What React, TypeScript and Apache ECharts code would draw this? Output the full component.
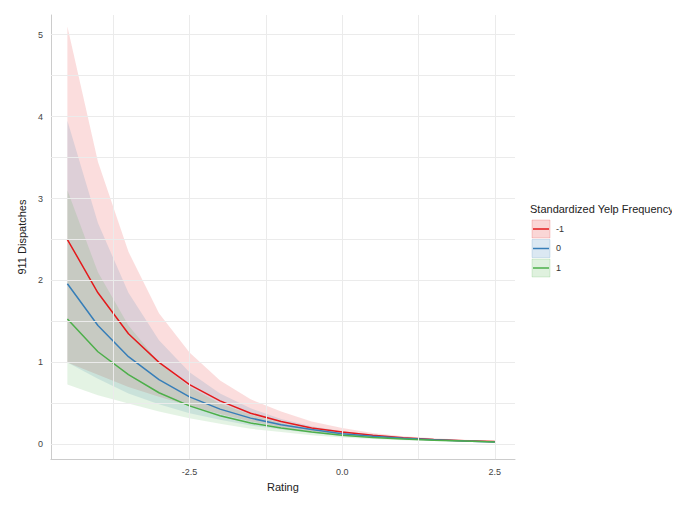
import React, { useEffect, useRef } from "react";
import * as echarts from "echarts";

const xs = [-4.5, -4, -3.5, -3, -2.5, -2, -1.5, -1, -0.5, 0, 0.5, 1, 1.5, 2, 2.5];
const groups = ["-1", "0", "1"];
const colors = ["#E41A1C", "#377EB8", "#4DAF4A"];
const fitRed = [2.5, 1.85, 1.35, 1.0, 0.73, 0.53, 0.38, 0.28, 0.2, 0.15, 0.11, 0.08, 0.06, 0.045, 0.035];
const fitBlue = [1.96, 1.45, 1.07, 0.79, 0.58, 0.43, 0.32, 0.24, 0.18, 0.13, 0.1, 0.075, 0.055, 0.04, 0.03];
const fitGreen = [1.53, 1.13, 0.85, 0.63, 0.47, 0.35, 0.26, 0.2, 0.15, 0.11, 0.085, 0.065, 0.05, 0.04, 0.03];
const upRed = [5.1, 3.45, 2.35, 1.6, 1.12, 0.78, 0.55, 0.4, 0.28, 0.2, 0.14, 0.1, 0.075, 0.055, 0.04];
const loRed = [1.0, 0.85, 0.7, 0.58, 0.47, 0.37, 0.28, 0.21, 0.16, 0.12, 0.09, 0.065, 0.05, 0.035, 0.03];
const upBlue = [3.95, 2.7, 1.85, 1.27, 0.88, 0.62, 0.44, 0.31, 0.22, 0.16, 0.12, 0.085, 0.063, 0.047, 0.035];
const loBlue = [1.0, 0.8, 0.62, 0.49, 0.38, 0.3, 0.23, 0.18, 0.14, 0.1, 0.08, 0.06, 0.045, 0.035, 0.025];
const upGreen = [3.1, 2.1, 1.45, 1.0, 0.7, 0.5, 0.36, 0.26, 0.19, 0.14, 0.1, 0.075, 0.056, 0.042, 0.032];
const loGreen = [0.73, 0.6, 0.5, 0.4, 0.32, 0.25, 0.19, 0.15, 0.11, 0.085, 0.065, 0.05, 0.04, 0.03, 0.025];

const fits = [fitRed, fitBlue, fitGreen];
const ups = [upRed, upBlue, upGreen];
const los = [loRed, loBlue, loGreen];

export default function App() {
  const ref = useRef<HTMLDivElement>(null);
  useEffect(() => {
    const chart = echarts.init(ref.current!, null, { renderer: "svg" });
    const bands = groups.map((g, gi) => ({
      type: "custom",
      silent: true,
      data: xs.map((x, i) => [x, ups[gi][i]]),
      renderItem: (params: any, api: any) => {
        if (params.dataIndex !== 0) return null;
        const pts: number[][] = [];
        xs.forEach((x, i) => pts.push(api.coord([x, ups[gi][i]])));
        for (let i = xs.length - 1; i >= 0; i--) pts.push(api.coord([xs[i], los[gi][i]]));
        return { type: "polygon", shape: { points: pts }, style: { fill: colors[gi], opacity: 0.15 } };
      },
      z: 1,
    }));
    const lines = groups.map((g, gi) => ({
      type: "line",
      name: g,
      data: xs.map((x, i) => [x, fits[gi][i]]),
      showSymbol: false,
      lineStyle: { color: colors[gi], width: 1.5 },
      itemStyle: { color: colors[gi] },
      z: 3,
    }));
    const legendItems: any[] = [
      { type: "text", left: 522, top: 195, style: { text: "Standardized Yelp Frequency", fontSize: 11, fill: "#222", fontFamily: "Liberation Sans" } },
    ];
    groups.forEach((g, gi) => {
      const y = 212 + gi * 19.5;
      legendItems.push({ type: "rect", shape: { x: 524, y, width: 18, height: 18 }, style: { fill: colors[gi], opacity: 0.18, stroke: colors[gi], lineWidth: 1 } });
      legendItems.push({ type: "line", shape: { x1: 525, y1: y + 9, x2: 541, y2: y + 9 }, style: { stroke: colors[gi], lineWidth: 1.5 } });
      legendItems.push({ type: "text", left: 548, top: y + 4, style: { text: g, fontSize: 9, fill: "#333", fontFamily: "Liberation Sans" } });
    });
    chart.setOption({
      animation: false,
      grid: { left: 25, right: 165, top: 7, bottom: 27 },
      xAxis: {
        type: "value", min: -4.77, max: 2.83,
        name: "Rating", nameLocation: "middle", nameGap: 20,
        nameTextStyle: { fontSize: 11, color: "#222", fontFamily: "Liberation Sans" },
        axisLine: { show: true, onZero: false, lineStyle: { color: "#ccc" } },
        axisTick: { show: false },
        axisLabel: {
          fontSize: 9, color: "#444", fontFamily: "Liberation Sans",
          formatter: (v: number) => v.toFixed(1),
          customValues: [-2.5, 0, 2.5],
        },
        splitLine: { show: false },
      },
      yAxis: {
        type: "value", min: -0.18, max: 5.24,
        name: "911 Dispatches", nameLocation: "middle", nameGap: 20,
        nameTextStyle: { fontSize: 11, color: "#222", fontFamily: "Liberation Sans" },
        axisLine: { show: true, onZero: false, lineStyle: { color: "#ccc" } },
        axisTick: { show: false },
        axisLabel: { fontSize: 9, color: "#444", fontFamily: "Liberation Sans", customValues: [0, 1, 2, 3, 4, 5] },
        splitLine: { show: false },
      },
      graphic: legendItems,
      series: [
        ...bands, ...lines,
        {
          type: "line", data: [], silent: true,
          markLine: {
            symbol: "none", silent: true, label: { show: false },
            lineStyle: { color: "#ebebeb", type: "solid", width: 1 },
            data: [0, 0.5, 1, 1.5, 2, 2.5, 3, 3.5, 4, 4.5, 5].map((v) => ({ yAxis: v }))
              .concat([-3.75, -2.5, -1.25, 0, 1.25, 2.5].map((v) => ({ xAxis: v } as any))),
          },
          z: 0,
        },
      ],
    });
    return () => chart.dispose();
  }, []);
  return <div ref={ref} style={{ width: 672, height: 489 }} />;
}
